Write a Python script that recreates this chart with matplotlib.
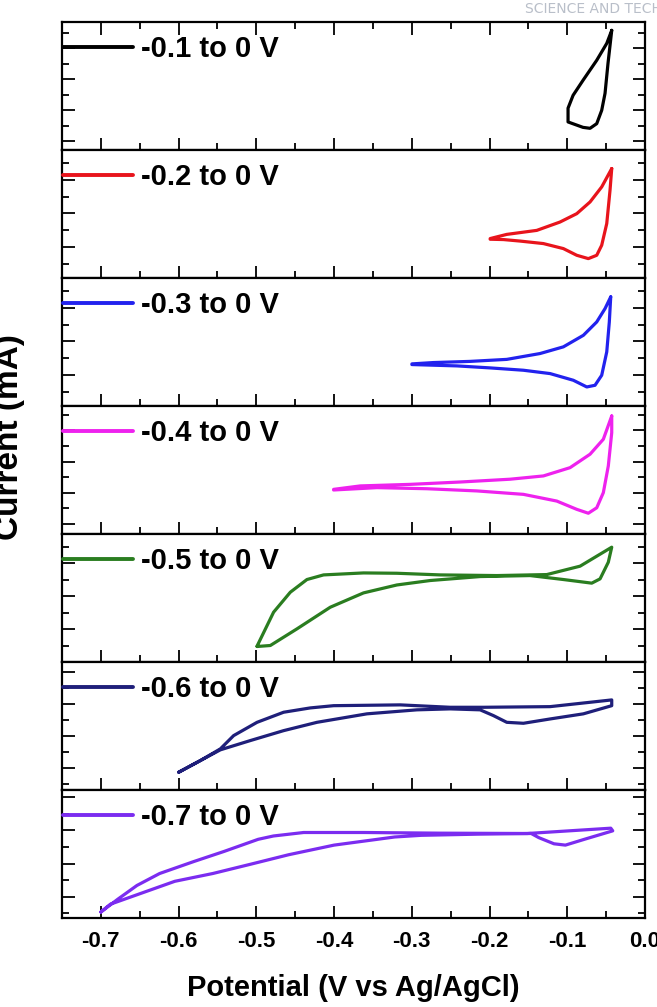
import numpy as np
import matplotlib
matplotlib.use("Agg")
import matplotlib.pyplot as plt
from matplotlib.ticker import MultipleLocator

plt.rcParams['font.family'] = ['Liberation Sans', 'DejaVu Sans']
plt.rcParams['font.weight'] = 'bold'

# CV loops: potential (V) and current (arbitrary units, one per panel)
labels = ['-0.1 to 0 V', '-0.2 to 0 V', '-0.3 to 0 V', '-0.4 to 0 V',
          '-0.5 to 0 V', '-0.6 to 0 V', '-0.7 to 0 V']
colors = ['#000000', '#e8141c', '#2222ee', '#ee22ee', '#2a7d20', '#1f1f7a', '#7b2cf0']

x1 = [-0.0428, -0.0476, -0.0514, -0.0557, -0.0621, -0.0707, -0.0797, -0.0990,
      -0.0990, -0.0925, -0.0797, -0.0621, -0.0492, -0.0428]
y1 = [7.14, 5.01, 3.08, 1.98, 1.12, 0.82, 0.88, 1.23, 2.12, 2.95, 3.92, 5.21, 6.30, 7.14]

x2 = [-0.0428, -0.0450, -0.0492, -0.0557, -0.0621, -0.0729, -0.0878, -0.1050, -0.1307,
      -0.1607, -0.1821, -0.1992, -0.1992, -0.1778, -0.1392, -0.1093, -0.0878, -0.0707,
      -0.0557, -0.0428]
y2 = [6.69, 5.39, 3.40, 2.10, 1.50, 1.30, 1.50, 1.90, 2.20, 2.35, 2.44, 2.46, 2.50,
      2.75, 2.99, 3.49, 3.99, 4.69, 5.59, 6.69]

x3 = [-0.0441, -0.0459, -0.0492, -0.0557, -0.0643, -0.0749, -0.0922, -0.1221, -0.1564,
      -0.1992, -0.2420, -0.2999, -0.2999, -0.2721, -0.2249, -0.1778, -0.1350, -0.1050,
      -0.0793, -0.0621, -0.0514, -0.0441]
y3 = [6.67, 5.17, 3.38, 1.98, 1.38, 1.28, 1.68, 2.08, 2.28, 2.42, 2.54, 2.62, 2.66,
      2.74, 2.81, 2.93, 3.28, 3.68, 4.37, 5.17, 5.97, 6.67]

x4 = [-0.0428, -0.0428, -0.0472, -0.0536, -0.0621, -0.0729, -0.0878, -0.1135, -0.1564,
      -0.2163, -0.2806, -0.3449, -0.4006, -0.4006, -0.3663, -0.3021, -0.2378, -0.1735,
      -0.1307, -0.0964, -0.0707, -0.0536, -0.0428]
y4 = [6.92, 5.85, 3.72, 2.01, 1.04, 0.69, 0.94, 1.47, 1.90, 2.12, 2.26, 2.33, 2.18,
      2.22, 2.44, 2.54, 2.69, 2.87, 3.08, 3.61, 4.47, 5.43, 6.92]

x5 = [-0.4991, -0.4778, -0.4563, -0.4349, -0.4135, -0.3621, -0.3192, -0.2635, -0.1906,
      -0.1264, -0.0835, -0.0428, -0.0472, -0.0578, -0.0685, -0.1050, -0.1478, -0.2121,
      -0.2763, -0.3192, -0.3621, -0.4049, -0.4477, -0.4820, -0.4991]
y5 = [0.96, 3.02, 4.23, 5.00, 5.28, 5.40, 5.38, 5.28, 5.24, 5.30, 5.81, 6.96, 6.05,
      5.04, 4.78, 5.00, 5.24, 5.18, 4.94, 4.67, 4.19, 3.32, 2.01, 1.00, 0.94]

x6 = [-0.5999, -0.5720, -0.5463, -0.5292, -0.4991, -0.4649, -0.4306, -0.4006, -0.3149,
      -0.2506, -0.2078, -0.1221, -0.0428, -0.0428, -0.0793, -0.1221, -0.1564, -0.1778,
      -0.1950, -0.2121, -0.2506, -0.2934, -0.3577, -0.4220, -0.4649, -0.5077, -0.5463,
      -0.5720, -0.5999]
y6 = [1.73, 2.46, 3.19, 4.02, 4.85, 5.48, 5.75, 5.89, 5.94, 5.79, 5.79, 5.83, 6.25,
      5.89, 5.38, 5.06, 4.79, 4.85, 5.27, 5.63, 5.69, 5.63, 5.38, 4.85, 4.33, 3.71,
      3.13, 2.46, 1.73]

x7 = [-0.7000, -0.6780, -0.6536, -0.6244, -0.5805, -0.5415, -0.4976, -0.4780, -0.4391,
      -0.3609, -0.2634, -0.1513, -0.0440, -0.0415, -0.0780, -0.1024, -0.1171, -0.1366,
      -0.1464, -0.2147, -0.2878, -0.3220, -0.4000, -0.4585, -0.5073, -0.5560, -0.6049,
      -0.6878, -0.7000]
y7 = [1.08, 1.86, 2.68, 3.40, 4.12, 4.73, 5.46, 5.66, 5.87, 5.87, 5.83, 5.81, 6.13,
      5.97, 5.46, 5.11, 5.19, 5.56, 5.81, 5.77, 5.70, 5.60, 5.11, 4.53, 3.96, 3.40,
      2.93, 1.55, 1.08]

xs = [x1, x2, x3, x4, x5, x6, x7]
ys = [y1, y2, y3, y4, y5, y6, y7]
ylims = [(-0.58, 7.68), (0.14, 7.8), (0.14, 7.8), (-0.64, 7.56),
         (0.0, 7.76), (0.62, 8.62), (0.72, 8.43)]

fig, axes = plt.subplots(7, 1, sharex=True, figsize=(6.57, 10.07), dpi=100)
fig.subplots_adjust(left=62/657, right=645/657, top=1-22/1007, bottom=1-918/1007, hspace=0)

for i, ax in enumerate(axes):
    ax.plot(xs[i], ys[i], color=colors[i], lw=2.3, label=labels[i],
            solid_joinstyle='round', solid_capstyle='round')
    ax.set_ylim(ylims[i])
    ax.set_xlim(-0.75, 0.0)
    ax.xaxis.set_major_locator(MultipleLocator(0.1))
    ax.xaxis.set_minor_locator(MultipleLocator(0.05))
    ax.yaxis.set_major_locator(MultipleLocator(2))
    ax.yaxis.set_minor_locator(MultipleLocator(1))
    ax.tick_params(which='both', direction='in', left=True, right=True,
                   top=(i == 0), bottom=True, labelleft=False, width=1.3)
    ax.tick_params(which='major', length=9)
    ax.tick_params(which='minor', length=5)
    for s in ax.spines.values():
        s.set_linewidth(1.6)
    leg = ax.legend(loc='upper left', bbox_to_anchor=(0.0, 0.91), borderaxespad=0,
                    borderpad=0.05, handlelength=2.4, handletextpad=0.25, frameon=False,
                    prop={'weight': 'bold', 'size': 21})
    for h in leg.get_lines():
        h.set_linewidth(2.8)

axes[-1].set_xticks([-0.7, -0.6, -0.5, -0.4, -0.3, -0.2, -0.1, 0.0])
axes[-1].set_xticklabels(['-0.7', '-0.6', '-0.5', '-0.4', '-0.3', '-0.2', '-0.1', '0.0'])
axes[-1].tick_params(axis='x', labelsize=16, pad=9)
for t in axes[-1].get_xticklabels():
    t.set_fontweight('bold')
axes[-1].set_xlabel('Potential (V vs Ag/AgCl)', fontsize=21, fontweight='bold', labelpad=16)

fig.text(25/657, 1-437/1007, 'Current (mA)', rotation=90, ha='right', va='center',
         fontsize=24, fontweight='bold')
fig.text(525/657, 1-2/1007, 'SCIENCE AND TECHNOLOGY', ha='left', va='top',
         fontsize=10, color='#b9bfc9', fontweight='normal', family='DejaVu Sans')

fig.savefig('out.png', dpi=100)
